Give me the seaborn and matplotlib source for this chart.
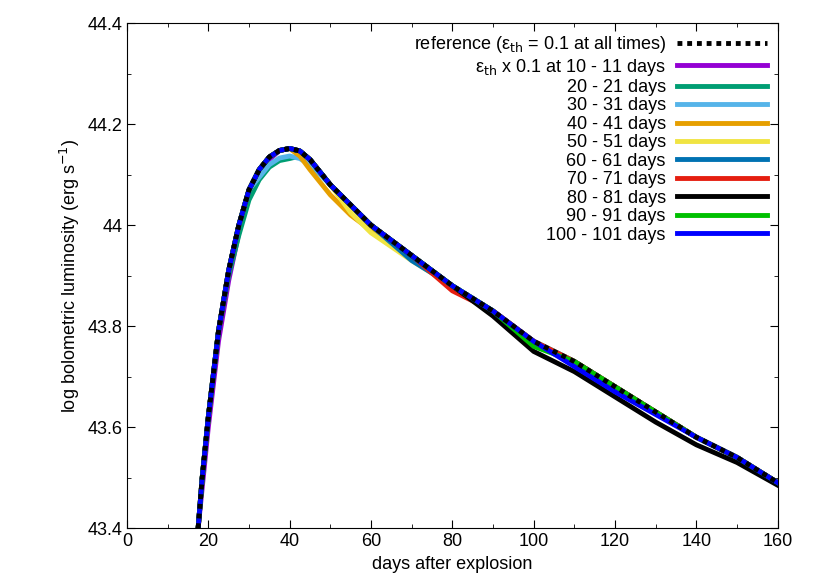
import matplotlib
matplotlib.use("Agg")
import matplotlib.pyplot as plt
from matplotlib.ticker import FuncFormatter, MultipleLocator
import seaborn as sns
import pandas as pd

plt.rcParams["font.family"] = "Liberation Sans"

# days after explosion and reference light curve (log L)
days = [17.5, 18.5, 20, 22.5, 25, 27.5, 30, 32.5, 35, 37.5, 40, 42.5, 45, 50,
        55, 60, 70, 80, 90, 100, 110, 120, 130, 140, 150, 160]
ref_lum = [43.40, 43.50, 43.62, 43.79, 43.91, 44.00, 44.07, 44.11, 44.135, 44.148,
           44.152, 44.147, 44.13, 44.08, 44.04, 44.00, 43.94, 43.88, 43.83, 43.77,
           43.73, 43.68, 43.63, 43.58, 43.54, 43.49]

# departures from the reference for each reduced-eps window (day -> delta log L)
labels = ["ε$_{\\rm th}$ x 0.1 at 10 - 11 days", "20 - 21 days", "30 - 31 days",
          "40 - 41 days", "50 - 51 days", "60 - 61 days", "70 - 71 days",
          "80 - 81 days", "90 - 91 days", "100 - 101 days"]
colors = ["#9400d3", "#009e73", "#56b4e9", "#e69f00", "#f0e442", "#0072b2",
          "#e51e10", "#000000", "#00c000", "#0000ff"]
deltas = [
    {18.5: -0.02, 20: -0.02, 22.5: -0.02, 25: -0.02, 27.5: -0.015, 30: -0.01, 32.5: -0.01, 35: -0.005},
    {25: -0.01, 27.5: -0.02, 30: -0.02, 32.5: -0.02, 35: -0.02, 37.5: -0.02, 40: -0.02, 42.5: -0.01},
    {32.5: -0.015, 35: -0.015, 37.5: -0.015, 40: -0.015, 42.5: -0.015, 45: -0.01},
    {42.5: -0.01, 45: -0.02, 50: -0.02, 55: -0.02, 60: -0.01},
    {55: -0.015, 60: -0.015, 70: -0.01},
    {70: -0.01},
    {80: -0.01},
    {90: -0.01, 100: -0.02, 110: -0.02, 120: -0.02, 130: -0.02, 140: -0.015, 150: -0.01, 160: -0.005},
    {100: -0.01},
    {110: -0.01, 120: -0.01, 130: -0.005},
]

fig = plt.figure(figsize=(8.3, 5.81), dpi=100)
ax = fig.add_axes([0.153, 0.091, 0.784, 0.869])

for lab, col, dl in zip(labels, colors, deltas):
    df = pd.DataFrame({"day": days,
                       "lum": [v + dl.get(d, 0.0) for d, v in zip(days, ref_lum)]})
    sns.lineplot(data=df, x="day", y="lum", color=col, lw=3.5, ax=ax, label=lab, zorder=2)

ref_df = pd.DataFrame({"day": days, "lum": ref_lum})
sns.lineplot(data=ref_df, x="day", y="lum", color="black", lw=3.5, ls=(0, (1, 1)),
             ax=ax, label="reference (ε$_{\\rm th}$ = 0.1 at all times)", zorder=3)

ax.set_xlim(0, 160)
ax.set_ylim(43.4, 44.4)
ax.xaxis.set_major_locator(MultipleLocator(20))
ax.xaxis.set_minor_locator(MultipleLocator(10))
ax.yaxis.set_major_locator(MultipleLocator(0.2))
ax.yaxis.set_minor_locator(MultipleLocator(0.1))
ax.yaxis.set_major_formatter(FuncFormatter(lambda v, p: f"{v:g}"))
ax.tick_params(which="both", direction="in", top=True, right=True, labelsize=13)
ax.tick_params(which="major", length=6)
ax.tick_params(which="minor", length=3)
ax.set_xlabel("days after explosion", fontsize=13, labelpad=4)
ax.set_ylabel("log bolometric luminosity (erg s$^{-1}$)", fontsize=13)

h, l = ax.get_legend_handles_labels()
h = [h[-1]] + h[:-1]
l = [l[-1]] + l[:-1]
ax.legend(h, l, loc="upper right", frameon=False, markerfirst=False, fontsize=13,
          handlelength=5, labelspacing=0.08, borderaxespad=0.2, handletextpad=0.6)
for t in ax.get_legend().get_texts():
    t.set_ha("right")
ax.get_legend()._legend_box.align = "right"

fig.savefig("out.png", dpi=100)
